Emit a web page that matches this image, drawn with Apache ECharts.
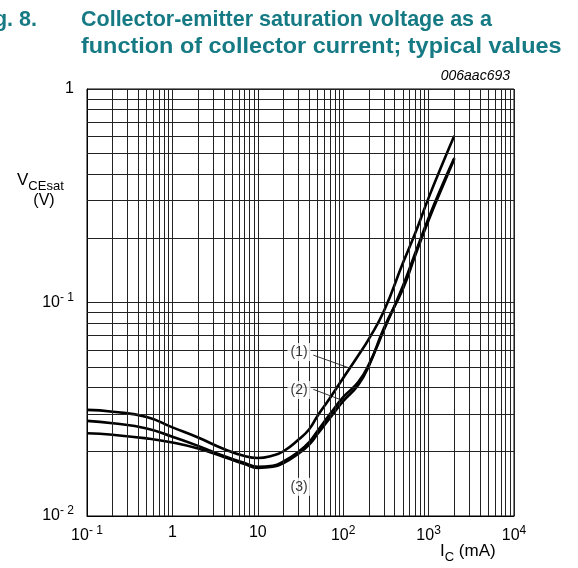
<!DOCTYPE html>
<html>

<head>
    <meta charset="utf-8" />
    <title>Collector-emitter saturation voltage</title>
    <script src="https://cdn.jsdelivr.net/npm/echarts@6/dist/echarts.min.js"></script>
    <style>
        html, body { margin: 0; padding: 0; background: #fff; }
        #div1 { width: 578px; height: 568px; }
    </style>
</head>

<body>
    <div id="div1"></div>
    <script type="text/javascript">
        // collector current (mA), shared by all three curves
        var currents = [0.1, 0.2, 0.5, 1, 2, 4, 7, 10, 15, 20, 30, 40, 50, 70, 100, 150, 200, 300, 500, 700, 1000, 1500, 2000];
        // VCEsat (V)
        var vce1 = [0.0314, 0.0308, 0.0291, 0.0260, 0.0233, 0.0206, 0.0191, 0.0187, 0.0192, 0.0201, 0.0228, 0.0255, 0.0294, 0.0357, 0.0443, 0.0565, 0.0676, 0.0912, 0.153, 0.212, 0.309, 0.460, 0.604];
        var vce2 = [0.0279, 0.0272, 0.0257, 0.0235, 0.0213, 0.0191, 0.0177, 0.0170, 0.0172, 0.0180, 0.0200, 0.0222, 0.0250, 0.0300, 0.0360, 0.0424, 0.0513, 0.0743, 0.1195, 0.171, 0.249, 0.367, 0.475];
        var vce3 = [0.0244, 0.0240, 0.0231, 0.0221, 0.0207, 0.0189, 0.0175, 0.0168, 0.0170, 0.0177, 0.0196, 0.0216, 0.0242, 0.0288, 0.0345, 0.0411, 0.0505, 0.0760, 0.1157, 0.167, 0.243, 0.359, 0.470];

        // curve labels and their leader lines
        var curveNames = ['(1)', '(2)', '(3)'];
        var labelPos = [[30.4, 0.0586], [30.4, 0.0389], [30.4, 0.0137]];
        var leader1 = [[44.7, 0.0567], [120, 0.0492]];
        var leader2 = [[44.7, 0.0392], [96, 0.0349]];

        var xDecades = [-1, 0, 1, 2, 3];
        var yDecades = [-2, -1];

        function pairs(xs, ys) {
            return xs.map(function (x, i) { return [x, ys[i]]; });
        }

        // minor grid lines at 2..9 of every decade
        var gridLines = [];
        xDecades.forEach(function (d) {
            for (var m = 2; m <= 9; m++) gridLines.push({ xAxis: m * Math.pow(10, d) });
        });
        yDecades.forEach(function (d) {
            for (var m = 2; m <= 9; m++) gridLines.push({ yAxis: m * Math.pow(10, d) });
        });

        var font = '"Liberation Sans", Arial, sans-serif';
        var teal = '#157a84';
        var supStyle = { fontSize: 12, fontFamily: font, color: '#000', verticalAlign: 'top', padding: [0, 0, 10, 0] };

        function powLabel(v) {
            var e = Math.round(Math.log10(v));
            if (e === 0) return '1';
            if (e === 1) return '10';
            return '10{sup|' + (e < 0 ? '- ' + (-e) : e) + '}';
        }

        var myChart = echarts.init(document.getElementById('div1'), null, { renderer: 'canvas' });

        var curveStyle = { color: '#000', width: 2.6 };

        option = {
            animation: false,
            backgroundColor: '#fff',
            grid: {
                left: 87,
                top: 89,
                right: 64,
                bottom: 52,
                show: true,
                borderColor: '#000',
                borderWidth: 1
            },
            xAxis: {
                type: 'log',
                logBase: 10,
                min: 0.1,
                max: 10000,
                axisLine: { lineStyle: { color: '#000', width: 1 } },
                axisTick: { show: false },
                splitLine: { show: true, lineStyle: { color: '#222', width: 1 } },
                axisLabel: {
                    color: '#000',
                    fontSize: 16,
                    fontFamily: font,
                    margin: 9,
                    formatter: powLabel,
                    rich: { sup: supStyle }
                }
            },
            yAxis: {
                type: 'log',
                logBase: 10,
                min: 0.01,
                max: 1,
                axisLine: { lineStyle: { color: '#000', width: 1 } },
                axisTick: { show: false },
                splitLine: { show: true, lineStyle: { color: '#222', width: 1 } },
                axisLabel: {
                    color: '#000',
                    fontSize: 16,
                    fontFamily: font,
                    margin: 13,
                    formatter: powLabel,
                    rich: { sup: supStyle }
                }
            },
            graphic: [
                {
                    type: 'text', x: 37, y: 20, z: 10,
                    style: { text: 'Fig. 8.', font: 'bold 21.5px ' + font, fill: teal, textAlign: 'right', textVerticalAlign: 'middle' }
                },
                {
                    type: 'text', x: 81, y: 20, z: 10,
                    style: { text: 'Collector-emitter saturation voltage as a', font: 'bold 21.5px ' + font, fill: teal, textVerticalAlign: 'middle' }
                },
                {
                    type: 'text', x: 81, y: 47, z: 10, scaleX: 1.09,
                    style: { text: 'function of collector current; typical values', font: 'bold 21.5px ' + font, fill: teal, textVerticalAlign: 'middle' }
                },
                {
                    type: 'text', x: 510, y: 76, z: 10,
                    style: { text: '006aac693', font: 'italic 14px ' + font, fill: '#000', textAlign: 'right', textVerticalAlign: 'middle' }
                },
                {
                    type: 'text', x: 17, y: 172, z: 10,
                    style: {
                        text: '{v|V}{s|CEsat}',
                        rich: {
                            v: { fontSize: 17, fontFamily: font, fill: '#000', verticalAlign: 'top' },
                            s: { fontSize: 13, fontFamily: font, fill: '#000', verticalAlign: 'bottom', padding: [8, 0, 0, 0] }
                        }
                    }
                },
                {
                    type: 'text', x: 44, y: 201, z: 10,
                    style: { text: '(V)', font: '16px ' + font, fill: '#000', textAlign: 'center', textVerticalAlign: 'middle' }
                },
                {
                    type: 'text', x: 440, y: 543, z: 10,
                    style: {
                        text: '{v|I}{s|C}{v| (mA)}',
                        rich: {
                            v: { fontSize: 17, fontFamily: font, fill: '#000', verticalAlign: 'top' },
                            s: { fontSize: 13, fontFamily: font, fill: '#000', verticalAlign: 'bottom', padding: [8, 0, 0, 0] }
                        }
                    }
                }
            ],
            series: [
                {
                    name: 'grid',
                    type: 'line',
                    data: [],
                    silent: true,
                    z: 1,
                    markLine: {
                        silent: true,
                        symbol: ['none', 'none'],
                        label: { show: false },
                        lineStyle: { color: '#222', width: 1, type: 'solid' },
                        data: gridLines
                    }
                },
                {
                    name: curveNames[0], type: 'line', z: 3, smooth: 0.5, showSymbol: false,
                    lineStyle: curveStyle, data: pairs(currents, vce1)
                },
                {
                    name: curveNames[1], type: 'line', z: 3, smooth: 0.5, showSymbol: false,
                    lineStyle: curveStyle, data: pairs(currents, vce2)
                },
                {
                    name: curveNames[2], type: 'line', z: 3, smooth: 0.5, showSymbol: false,
                    lineStyle: curveStyle, data: pairs(currents, vce3)
                },
                {
                    type: 'line', z: 4, showSymbol: false, silent: true,
                    lineStyle: { color: '#000', width: 0.8 }, data: leader1
                },
                {
                    type: 'line', z: 4, showSymbol: false, silent: true,
                    lineStyle: { color: '#000', width: 0.8 }, data: leader2
                },
                {
                    type: 'scatter', z: 5, symbolSize: 1, silent: true,
                    itemStyle: { color: 'rgba(0,0,0,0)' },
                    data: labelPos.map(function (p, i) { return { value: p, name: curveNames[i] }; }),
                    label: {
                        show: true,
                        position: 'inside',
                        formatter: '{b}',
                        color: '#000',
                        fontSize: 14,
                        fontFamily: font,
                        backgroundColor: '#fff',
                        padding: [2, 3]
                    }
                }
            ]
        };
        myChart.setOption(option);
    </script>
</body>

</html>
